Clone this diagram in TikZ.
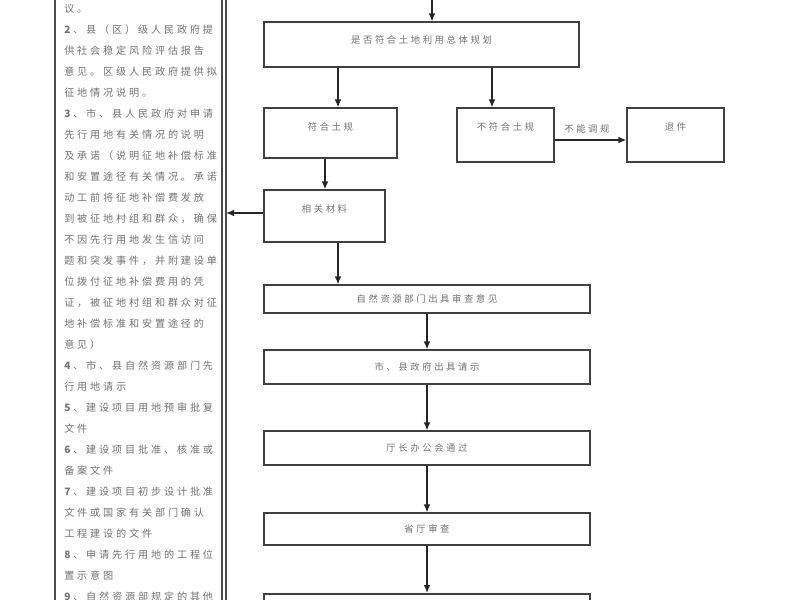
\documentclass[tikz,border=0pt]{standalone}
\usepackage{fontspec}
\setmainfont{Noto Sans CJK SC}
\newfontfamily\spcjk[LetterSpace=28]{Noto Sans CJK SC}
\usetikzlibrary{arrows.meta}
\begin{document}
\begin{tikzpicture}[x=0.75pt,y=-0.75pt,
  box/.style={draw=black!75,line width=0.9pt,inner sep=0pt},
  txt/.style={text=black!55,font=\spcjk\fontsize{7}{8}\selectfont},
  arr/.style={-{Latex[length=6pt,width=5pt]},line width=1pt,black!85},
  lt/.style={anchor=west,inner sep=0pt,text=black!55,font=\spcjk\fontsize{7.6}{8}\selectfont}]
\useasboundingbox (0,0) rectangle (800,600);
\fill[white] (0,0) rectangle (800,600);
\begin{scope}
\clip (0,0) rectangle (800,600);
\draw[black!70,line width=0.8pt] (55,-5) -- (55,605);
\draw[black!70,line width=0.8pt] (222,-5) -- (222,605);
\draw[black!70,line width=0.8pt] (226,-5) -- (226,605);
\end{scope}
\foreach \t [count=\i from 0] in {议。,{\textbf{2}、县（区）级人民政府提},供社会稳定风险评估报告,意见。区级人民政府提供拟,征地情况说明。,{\textbf{3}、市、县人民政府对申请},先行用地有关情况的说明,及承诺（说明征地补偿标准,和安置途径有关情况。承诺,动工前将征地补偿费发放,到被征地村组和群众，确保,不因先行用地发生信访问,题和突发事件，并附建设单,位拨付征地补偿费用的凭,证，被征地村组和群众对征,地补偿标准和安置途径的,意见）,{\textbf{4}、市、县自然资源部门先},行用地请示,{\textbf{5}、建设项目用地预审批复},文件,{\textbf{6}、建设项目批准、核准或},备案文件,{\textbf{7}、建设项目初步设计批准},文件或国家有关部门确认,工程建设的文件,{\textbf{8}、申请先行用地的工程位},置示意图,{\textbf{9}、自然资源部规定的其他}}
  \node[lt] (l\i) at (64,{9+21*\i}) {\t};
\coordinate (top) at (432,-2);
\node[box,minimum width=315*0.75pt,minimum height=45*0.75pt,label={[txt,anchor=north,yshift=-7pt]north:是否符合土地利用总体规划}] (b1) at (421.5,44.5) {};
\node[box,minimum width=133*0.75pt,minimum height=50*0.75pt,label={[txt,anchor=north,yshift=-8pt]north:符合土规}] (b2) at (330.5,133) {};
\node[box,minimum width=97*0.75pt,minimum height=54*0.75pt,label={[txt,anchor=north,yshift=-8pt]north:不符合土规}] (b3) at (505.5,135) {};
\node[box,minimum width=97*0.75pt,minimum height=54*0.75pt,label={[txt,anchor=north,yshift=-8pt]north:退件}] (b4) at (675.5,135) {};
\node[box,minimum width=121*0.75pt,minimum height=52*0.75pt,label={[txt,anchor=north,yshift=-8pt]north:相关材料}] (b5) at (324.5,216) {};
\node[box,minimum width=326*0.75pt,minimum height=28*0.75pt,label={[txt]center:自然资源部门出具审查意见}] (b6) at (427,299) {};
\node[box,minimum width=326*0.75pt,minimum height=34*0.75pt,label={[txt]center:市、县政府出具请示}] (b7) at (427,367) {};
\node[box,minimum width=326*0.75pt,minimum height=34*0.75pt,label={[txt]center:厅长办公会通过}] (b8) at (427,448) {};
\node[box,minimum width=326*0.75pt,minimum height=32*0.75pt,label={[txt]center:省厅审查}] (b9) at (427,529) {};
\begin{scope}
\clip (0,0) rectangle (800,600);
\node[box,minimum width=326*0.75pt,minimum height=30*0.75pt] (b10) at (427,609) {};
\end{scope}
\draw[arr] (top) -- (b1.north -| top);
\draw[arr] (b1.south -| 338,0) -- (b2.north -| 338,0);
\draw[arr] (b1.south -| 492,0) -- (b3.north -| 492,0);
\draw[arr] (b3.east |- 0,140) -- node[txt,above=1pt,pos=0.45]{不能调规} (b4.west |- 0,140);
\draw[arr] (b2.south -| 325,0) -- (b5.north -| 325,0);
\coordinate (lb) at (226,213);
\draw[arr] (b5.west |- lb) -- (lb);
\draw[arr] (b5.south -| 338,0) -- (b6.north -| 338,0);
\draw[arr] (b6) -- (b7);
\draw[arr] (b7) -- (b8);
\draw[arr] (b8) -- (b9);
\draw[arr] (b9.south) -- (427,593);
\end{tikzpicture}
\end{document}
